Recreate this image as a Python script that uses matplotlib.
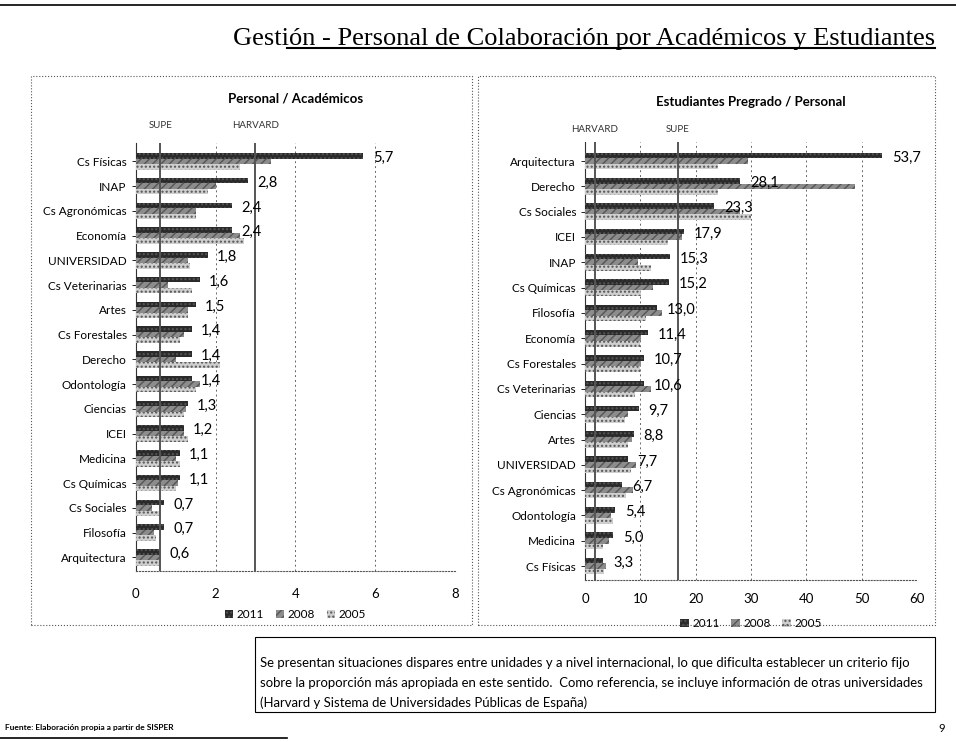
import numpy as np
import matplotlib.pyplot as plt
from matplotlib.patches import Rectangle
from matplotlib.lines import Line2D

plt.rcParams['font.family'] = ['Lato', 'DejaVu Sans']

# --- data: Personal / Academicos ---
cat_a = ['Cs Físicas', 'INAP', 'Cs Agronómicas', 'Economía', 'UNIVERSIDAD',
         'Cs Veterinarias', 'Artes', 'Cs Forestales', 'Derecho', 'Odontología',
         'Ciencias', 'ICEI', 'Medicina', 'Cs Químicas', 'Cs Sociales',
         'Filosofía', 'Arquitectura']
a2011 = [5.7, 2.8, 2.4, 2.4, 1.8, 1.6, 1.5, 1.4, 1.4, 1.4, 1.3, 1.2, 1.1, 1.1, 0.7, 0.7, 0.6]
a2008 = [3.4, 2.0, 1.5, 2.6, 1.3, 0.8, 1.3, 1.2, 1.0, 1.6, 1.25, 1.2, 1.0, 1.05, 0.4, 0.45, 0.6]
a2005 = [2.6, 1.8, 1.5, 2.7, 1.35, 1.4, 1.3, 1.1, 2.1, 1.5, 1.2, 1.3, 1.1, 1.0, 0.6, 0.5, 0.6]
ref_a = {'SUPE': 0.62, 'HARVARD': 3.0}

# --- data: Estudiantes Pregrado / Personal ---
cat_b = ['Arquitectura', 'Derecho', 'Cs Sociales', 'ICEI', 'INAP', 'Cs Químicas',
         'Filosofía', 'Economía', 'Cs Forestales', 'Cs Veterinarias', 'Ciencias',
         'Artes', 'UNIVERSIDAD', 'Cs Agronómicas', 'Odontología', 'Medicina',
         'Cs Físicas']
b2011 = [53.7, 28.1, 23.3, 17.9, 15.3, 15.2, 13.0, 11.4, 10.7, 10.6, 9.7, 8.8, 7.7, 6.7, 5.4, 5.0, 3.3]
b2008 = [29.5, 48.8, 28.0, 17.5, 9.6, 12.3, 14.0, 10.2, 10.2, 12.0, 7.8, 8.4, 9.2, 8.6, 4.7, 4.4, 3.8]
b2005 = [24.0, 24.0, 30.0, 15.0, 12.0, 10.2, 11.0, 9.9, 10.0, 9.0, 7.2, 7.8, 8.3, 7.4, 5.0, 3.2, 3.5]
ref_b = {'HARVARD': 1.8, 'SUPE': 16.8}

years = ['2011', '2008', '2005']
colors = ['#2a2a2a', '#8c8c8c', '#cfcfcf']
hatches = ['....', '////', '....']

fig = plt.figure(figsize=(9.56, 7.42), dpi=100)

# slide decorations
fig.add_artist(Line2D([0.0, 1.0], [0.993, 0.993], color='black', lw=1.2))
fig.add_artist(Line2D([0.30, 0.978], [0.935, 0.935], color='black', lw=1.5))
fig.text(0.978, 0.940, 'Gestión - Personal de Colaboración por Académicos y Estudiantes',
         family=['Liberation Serif', 'DejaVu Serif'], fontsize=19, ha='right',
         va='baseline')
fig.add_artist(Rectangle((0.032, 0.158), 0.462, 0.74, transform=fig.transFigure,
                         fill=False, ls=':', lw=0.8, ec='#555555'))
fig.add_artist(Rectangle((0.500, 0.158), 0.478, 0.74, transform=fig.transFigure,
                         fill=False, ls=':', lw=0.8, ec='#555555'))


def draw(ax, cats, vals, refs, xmax, step, title, ttl_y, ref_y, leg_y, tpad):
    y = np.arange(len(cats))
    h = 0.22
    for i, v in enumerate(vals):
        ax.barh(y - h + i * h, v, height=h, color=colors[i], hatch=hatches[i],
                edgecolor='#555555', linewidth=0, label=years[i], zorder=3)
    for yy, v in zip(y, vals[0]):
        ax.text(v + xmax * 0.03, yy - h * 0.6, f'{v:.1f}'.replace('.', ','),
                va='center', ha='left', fontsize=10.5, zorder=5)
    for name, xv in refs.items():
        ax.axvline(xv, color='#555555', lw=1.4, zorder=4)
        ax.text(xv, ref_y, name, ha='center', va='bottom', fontsize=7, color='#333333')
    ax.set_xlim(0, xmax)
    ax.set_ylim(len(cats) - 0.45, -0.75)
    ax.set_yticks(y)
    ax.set_yticklabels(cats, fontsize=8.5)
    ax.set_xticks(np.arange(0, xmax + step, step))
    ax.tick_params(axis='x', labelsize=9.5, length=0, pad=tpad)
    ax.tick_params(axis='y', length=3, width=0.6)
    ax.grid(axis='x', ls=(0, (2, 3)), color='#666666', lw=0.7, zorder=0)
    for s in ['top', 'right']:
        ax.spines[s].set_visible(False)
    ax.spines['bottom'].set_linestyle(':')
    ax.spines['bottom'].set_color('#555555')
    ax.spines['left'].set_color('#333333')
    ax.set_title(title, fontsize=9.5, fontweight='bold', y=ttl_y)
    ax.legend(loc='upper center', bbox_to_anchor=(0.5, leg_y), ncol=3, frameon=False,
              fontsize=8.5, handlelength=0.7, handleheight=0.7, handletextpad=0.3,
              columnspacing=1.0)


ax1 = fig.add_axes([0.142, 0.2305, 0.334, 0.577])
draw(ax1, cat_a, [a2011, a2008, a2005], ref_a, 8, 2,
     'Personal / Académicos', 1.075, -1.27, -0.065, 12)

ax2 = fig.add_axes([0.612, 0.2183, 0.347, 0.5903])
draw(ax2, cat_b, [b2011, b2008, b2005], ref_b, 60, 10,
     'Estudiantes Pregrado / Personal', 1.064, -1.06, -0.062, 9)

# comment box
fig.add_artist(Rectangle((0.267, 0.04), 0.711, 0.102, transform=fig.transFigure,
                         fill=False, lw=0.8, ec='black'))
fig.text(0.272, 0.0795,
         'Se presentan situaciones dispares entre unidades y a nivel internacional, lo que dificulta establecer un criterio fijo\n'
         'sobre la proporción más apropiada en este sentido.  Como referencia, se incluye información de otras universidades\n'
         '(Harvard y Sistema de Universidades Públicas de España)',
         fontsize=9.45, va='center', ha='left', linespacing=1.75)
fig.text(0.005, 0.02, 'Fuente: Elaboración propia a partir de SISPER', fontsize=6,
         fontweight='bold', va='center')
fig.add_artist(Line2D([0.0, 0.3], [0.006, 0.006], color='black', lw=1.2))
fig.text(0.985, 0.018, '9', fontsize=8, ha='center', va='center')

fig.savefig('out.png', dpi=100)
